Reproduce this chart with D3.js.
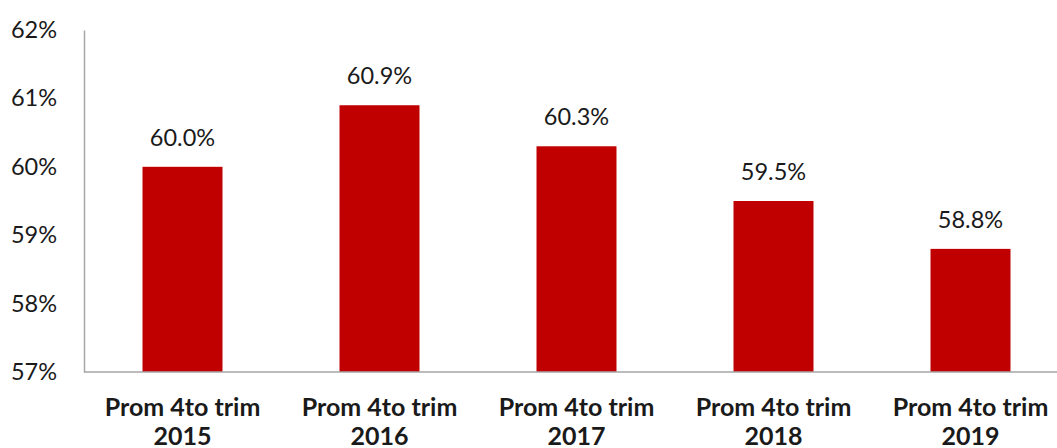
<!DOCTYPE html>
<html>
<head>
<meta charset="utf-8">
<script src="https://cdn.jsdelivr.net/npm/d3@7/dist/d3.min.js"></script>
<style>
  body { margin: 0; background: #fff; }
  svg { display: block; }
</style>
</head>
<body>
<div id="chart"></div>
<script>
const width = 1057, height = 448;

// data
const categories = ["Prom 4to trim 2015", "Prom 4to trim 2016", "Prom 4to trim 2017", "Prom 4to trim 2018", "Prom 4to trim 2019"];
const values = [60.0, 60.9, 60.3, 59.5, 58.8];
const yTicks = [57, 58, 59, 60, 61, 62];

const font = "Lato, 'Liberation Sans', sans-serif";

const svg = d3.select("#chart")
    .append("svg")
        .attr("width", width)
        .attr("height", height);

const x = d3.scaleBand()
    .domain(categories)
    .range([84, 1069])
    .paddingInner(0.594)
    .paddingOuter(0.297);

const y = d3.scaleLinear()
    .domain([57, 62])
    .range([372, 30]);

// bars
svg.selectAll("rect.bar")
    .data(values)
    .enter()
    .append("rect")
        .attr("class", "bar")
        .attr("x", (d, i) => x(categories[i]))
        .attr("y", d => y(d))
        .attr("width", x.bandwidth())
        .attr("height", d => y(57) - y(d))
        .attr("fill", "#c00000");

// y axis
const yAxis = svg.append("g")
    .attr("transform", "translate(84,0)")
    .call(d3.axisLeft(y).tickValues(yTicks).tickSize(0).tickPadding(27).tickFormat(d => d + "%"));
yAxis.select(".domain").attr("stroke", "#a6a6a6").attr("stroke-width", 1.5);
yAxis.selectAll("text")
    .attr("fill", "#1a1a1a")
    .style("font-family", font)
    .style("font-size", "23.5px");

// x axis
const xAxis = svg.append("g")
    .attr("transform", "translate(0,372)")
    .call(d3.axisBottom(x).tickSize(0).tickFormat(""));
xAxis.select(".domain").attr("d", "M84,0H" + width).attr("stroke", "#a6a6a6").attr("stroke-width", 1.5);

// category labels, two lines
xAxis.selectAll(".tick").each(function(d) {
    const parts = d.split(" ");
    const t = d3.select(this).select("text")
        .attr("y", 0)
        .attr("dy", null)
        .attr("fill", "#1a1a1a")
        .style("font-family", font)
        .style("font-size", "25px")
        .style("font-weight", "bold");
    t.append("tspan").attr("x", 0).attr("y", 44).text(parts.slice(0, 3).join(" "));
    t.append("tspan").attr("x", 0).attr("y", 73).text(parts[3]);
});

// value labels
svg.selectAll("text.value")
    .data(values)
    .enter()
    .append("text")
        .attr("class", "value")
        .attr("x", (d, i) => x(categories[i]) + x.bandwidth() / 2)
        .attr("y", d => y(d) - 21)
        .attr("text-anchor", "middle")
        .attr("fill", "#1a1a1a")
        .style("font-family", font)
        .style("font-size", "23.5px")
        .text(d => d.toFixed(1) + "%");
</script>
</body>
</html>
